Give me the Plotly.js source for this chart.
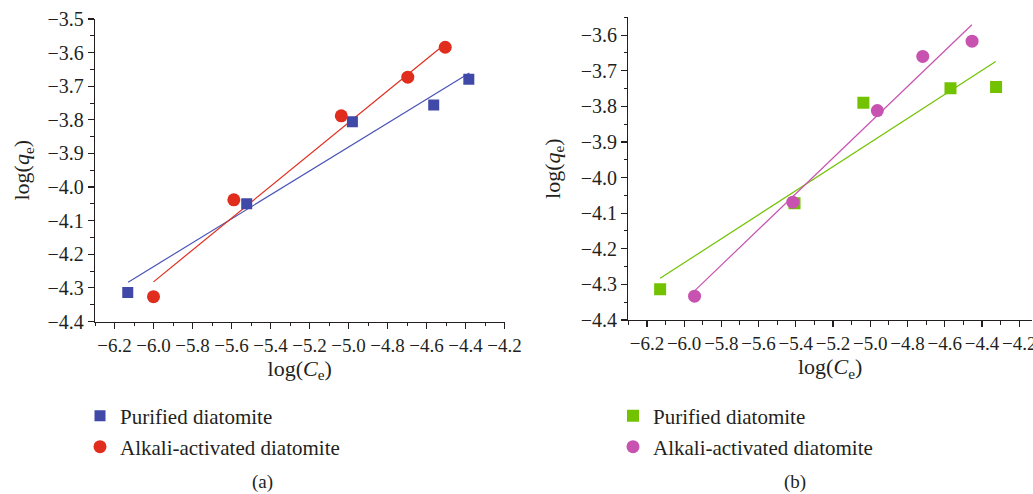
<!DOCTYPE html>
<html>
<head>
<meta charset="utf-8">
<script src="https://cdn.plot.ly/plotly-3.0.1.min.js"></script>
<style>html,body{margin:0;padding:0;background:#fff;}#chart{width:1033px;height:494px;}</style>
</head>
<body>
<div id="chart"></div>
<script>
// ----- Data -----
// Panel (a)
const aPurifiedX = [-6.132, -5.522, -4.980, -4.563, -4.383];
const aPurifiedY = [-4.314, -4.050, -3.806, -3.756, -3.679];
const aAlkaliX   = [-6.000, -5.588, -5.037, -4.696, -4.504];
const aAlkaliY   = [-4.326, -4.038, -3.788, -3.673, -3.584];
const aPurifiedFitX = [-6.13, -4.38];
const aPurifiedFitY = [-4.283, -3.661];
const aAlkaliFitX   = [-6.00, -4.50];
const aAlkaliFitY   = [-4.282, -3.572];
// Panel (b)
const bPurifiedX = [-6.129, -5.407, -5.037, -4.569, -4.324];
const bPurifiedY = [-4.314, -4.072, -3.790, -3.749, -3.746];
const bAlkaliX   = [-5.944, -5.416, -4.962, -4.718, -4.453];
const bAlkaliY   = [-4.333, -4.069, -3.812, -3.660, -3.617];
const bPurifiedFitX = [-6.129, -4.326];
const bPurifiedFitY = [-4.283, -3.674];
const bAlkaliFitX   = [-5.940, -4.454];
const bAlkaliFitY   = [-4.316, -3.571];

const seriesNames = ["Purified diatomite", "Alkali-activated diatomite"];
const panelLabels = ["(a)", "(b)"];
const xTitle = "log(<i>C</i><sub>e</sub>)";
const yTitle = "log(<i>q</i><sub>e</sub>)";

const FONT = "Liberation Serif, serif";
const TXT = "#231f20";
const cBlue = "#4048a8", cRed = "#e02d1e", cGreen = "#72c200", cMag = "#c752b0";
const W = 1033, H = 494;

function px(v){return v/W;}
function py(v){return 1 - v/H;}

const traces = [
  {x:aPurifiedFitX, y:aPurifiedFitY, mode:"lines", line:{color:"#4a55b8", width:1.2}, showlegend:false, xaxis:"x", yaxis:"y", hoverinfo:"skip"},
  {x:aAlkaliFitX, y:aAlkaliFitY, mode:"lines", line:{color:cRed, width:1.2}, showlegend:false, xaxis:"x", yaxis:"y", hoverinfo:"skip"},
  {x:aPurifiedX, y:aPurifiedY, mode:"markers", name:seriesNames[0], marker:{symbol:"square", size:11, color:cBlue}, xaxis:"x", yaxis:"y", legend:"legend"},
  {x:aAlkaliX, y:aAlkaliY, mode:"markers", name:seriesNames[1], marker:{symbol:"circle", size:13, color:cRed}, xaxis:"x", yaxis:"y", legend:"legend2"},
  {x:bPurifiedFitX, y:bPurifiedFitY, mode:"lines", line:{color:cGreen, width:1.2}, showlegend:false, xaxis:"x2", yaxis:"y2", hoverinfo:"skip"},
  {x:bAlkaliFitX, y:bAlkaliFitY, mode:"lines", line:{color:cMag, width:1.2}, showlegend:false, xaxis:"x2", yaxis:"y2", hoverinfo:"skip"},
  {x:bPurifiedX, y:bPurifiedY, mode:"markers", name:seriesNames[0], marker:{symbol:"square", size:12, color:cGreen}, xaxis:"x2", yaxis:"y2", legend:"legend3"},
  {x:bAlkaliX, y:bAlkaliY, mode:"markers", name:seriesNames[1], marker:{symbol:"circle", size:13, color:cMag}, xaxis:"x2", yaxis:"y2", legend:"legend4"}
];

function xAxis(domain, range, anchor){
  return {
    domain: domain, range: range, anchor: anchor,
    showgrid:false, zeroline:false, showline:true, linecolor:TXT, linewidth:1.3,
    ticks:"outside", ticklen:6, tickwidth:1.2, tickcolor:TXT,
    dtick:0.2, tick0:-6.2, tickformat:".1f", ticklabeloverflow:"allow", tickangle:0,
    minor:{dtick:0.1, tick0:-6.2, ticks:"outside", ticklen:3.5, tickwidth:1, tickcolor:TXT},
    tickfont:{family:FONT, size:19, color:TXT},
    title:{text:xTitle, font:{family:FONT, size:22, color:TXT}, standoff:3}
  };
}
function yAxis(domain, range, anchor, standoff){
  return {
    domain: domain, range: range, anchor: anchor,
    showgrid:false, zeroline:false, showline:true, linecolor:TXT, linewidth:1.3,
    ticks:"outside", ticklen:6, tickwidth:1.2, tickcolor:TXT,
    dtick:0.1, tick0:-4.4, tickformat:".1f", ticklabeloverflow:"allow", tickangle:0,
    minor:{dtick:0.05, tick0:-4.4, ticks:"outside", ticklen:3.5, tickwidth:1, tickcolor:TXT},
    tickfont:{family:FONT, size:20, color:TXT},
    title:{text:yTitle, font:{family:FONT, size:22, color:TXT}, standoff:standoff}
  };
}

function leg(x, y){
  return {x:px(x), y:py(y), xanchor:"left", yanchor:"middle", bgcolor:"rgba(0,0,0,0)",
    font:{family:FONT, size:21, color:TXT}, itemsizing:"trace"};
}

const layout = {
  width:W, height:H,
  margin:{l:0, r:0, t:0, b:0},
  paper_bgcolor:"#fff", plot_bgcolor:"#fff",
  xaxis: xAxis([px(95), px(504.5)], [-6.3, -4.2], "y"),
  yaxis: yAxis([py(321.5), py(19)], [-4.4, -3.5], "x", 11),
  xaxis2: xAxis([px(628.3), px(1032)], [-6.3, -4.131], "y2"),
  yaxis2: yAxis([py(320), py(17.3)], [-4.4, -3.55], "x2", 14),
  legend: leg(80, 416),
  legend2: leg(80, 447),
  legend3: leg(613, 416),
  legend4: leg(613, 447),
  annotations: [
    {text:panelLabels[0], x:px(262), y:py(482), xref:"paper", yref:"paper", xanchor:"center", yanchor:"middle", showarrow:false, font:{family:FONT, size:19, color:TXT}},
    {text:panelLabels[1], x:px(795), y:py(482), xref:"paper", yref:"paper", xanchor:"center", yanchor:"middle", showarrow:false, font:{family:FONT, size:19, color:TXT}}
  ]
};

Plotly.newPlot("chart", traces, layout, {displayModeBar:false, staticPlot:true});
</script>
</body>
</html>
